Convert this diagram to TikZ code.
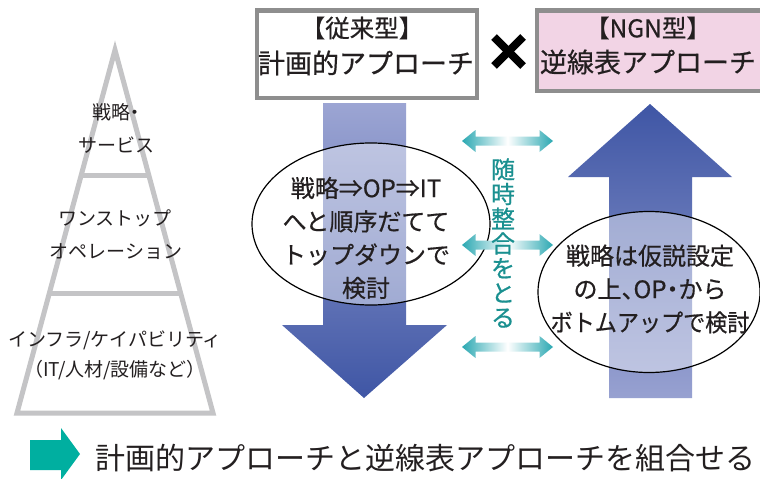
\documentclass[tikz,border=0pt]{standalone}
\usepackage{fontspec}
\setmainfont{Noto Sans CJK JP}
\newfontfamily\jpmed{Noto Sans CJK JP}[FakeBold=0.6]
\usetikzlibrary{shapes.geometric}
\definecolor{pyrgray}{HTML}{C4C4C6}
\definecolor{boxgray}{HTML}{8E8E8E}
\definecolor{pinkfill}{HTML}{F2D4E5}
\definecolor{bluedark}{HTML}{3F56A5}
\definecolor{bluelight}{HTML}{9CA5D3}
\definecolor{tealarrow}{HTML}{2BA8B2}
\definecolor{tealtext}{HTML}{1A9090}
\definecolor{tealblock}{HTML}{00AFA0}
\definecolor{ink}{HTML}{231F20}
\tikzset{
  pyrtext/.style={inner sep=0pt, text=ink, font=\fontsize{19}{21}\selectfont},
  titlesmall/.style={inner sep=0pt, text=ink, font=\jpmed\fontsize{24.5}{26}\selectfont},
  titlebig/.style={inner sep=0pt, text=ink, font=\jpmed\fontsize{27}{29}\selectfont},
  ovaltext/.style={inner sep=0pt, text=ink, align=center, font=\jpmed\fontsize{24}{33.3}\selectfont},
  oval/.style={ellipse, draw=black, line width=1.2pt, fill=white, fill opacity=0.42, inner sep=0pt},
  titlebox/.style={draw=boxgray, line width=4.5pt},
  dblarrow/.pic={
    \shade[left color=tealarrow, right color=tealarrow, middle color=white]
      (-45.5,0) -- (-32,-11) -- (-32,-4.5) -- (32,-4.5) -- (32,-11) -- (45.5,0)
      -- (32,11) -- (32,4.5) -- (-32,4.5) -- (-32,11) -- cycle;
  }
}
\begin{document}
\begin{tikzpicture}[x=1pt,y=-1pt]
\useasboundingbox (0,0) rectangle (760,479);
\fill[white] (0,0) rectangle (760,479);

% pyramid
\draw[pyrgray, line width=5pt, line join=miter] (115,50) -- (213,413) -- (17,413) -- cycle;
\draw[pyrgray, line width=5pt] (81,175) -- (149,175);
\draw[pyrgray, line width=5pt] (49,293) -- (181,293);
\node[pyrtext] (p1) at (116,112) {\addfontfeatures{RawFeature=+halt}戦略・};
\node[pyrtext] (p2) at (116,145) {サービス};
\node[pyrtext] (p3) at (115,218) {ワンストップ};
\node[pyrtext] (p4) at (116,252) {オペレーション};
\node[pyrtext] (p5) at (115,340) {インフラ/ケイパビリティ};
\node[pyrtext] (p6) at (115,370) {（IT/人材/設備など）};

% title boxes
\draw[titlebox, fill=white] (257,10.5) rectangle (477,98);
\draw[titlebox, fill=pinkfill] (537,10.5) rectangle (770,91);
\node[titlesmall] (t1) at (362,28) {【従来型】};
\node[titlebig] (t2) at (366,63) {計画的アプローチ};
\node[titlesmall] (t3) at (648,28) {【NGN型】};
\node[titlebig] (t4) at (648,62) {逆線表アプローチ};

% cross
\draw[black, line width=8pt] (494,37) -- (523,66);
\draw[black, line width=8pt] (523,37) -- (494,66);

% down arrow
\shade[top color=bluelight, bottom color=bluedark]
  (323,103) -- (406,103) -- (406,325) -- (447,325) -- (364,398) -- (282,325) -- (323,325) -- cycle;
% up arrow
\shade[top color=bluedark, bottom color=bluelight!95!bluedark]
  (650,104) -- (732,177) -- (692,177) -- (692,398) -- (609,398) -- (609,177) -- (568,177) -- cycle;

% ovals
\node[oval, minimum width=238pt, minimum height=162pt] (e1) at (371,224) {};
\node[oval, minimum width=222pt, minimum height=161pt] (e2) at (649,292) {};
\node[ovaltext] (o1) at (366,238) {戦略⇒OP⇒IT\\へと順序だてて\\トップダウンで\\検討};
\node[ovaltext] (o2) at (650,289) {戦略は仮説設定\\{\addfontfeatures{RawFeature=+halt}の上、OP・から}\\\scalebox{0.92}[1]{ボトムアップで検討}};

% double arrows
\pic at (507.5,141) {dblarrow};
\pic at (507.5,245) {dblarrow};
\pic at (507.5,347) {dblarrow};
\node[inner sep=0pt, text=tealtext, align=center, font=\jpmed\fontsize{24}{24.7}\selectfont] (v) at (503,243) {随\\時\\整\\合\\を\\と\\る};

% bottom
\fill[tealblock] (30,440) -- (61,440) -- (61,428) -- (80,454) -- (61,480) -- (61,470) -- (30,470) -- cycle;
\node[inner sep=0pt, text=ink, font=\fontsize{30}{32}\selectfont] (b) at (425,458) {計画的アプローチと逆線表アプローチを組合せる};
\end{tikzpicture}
\end{document}
